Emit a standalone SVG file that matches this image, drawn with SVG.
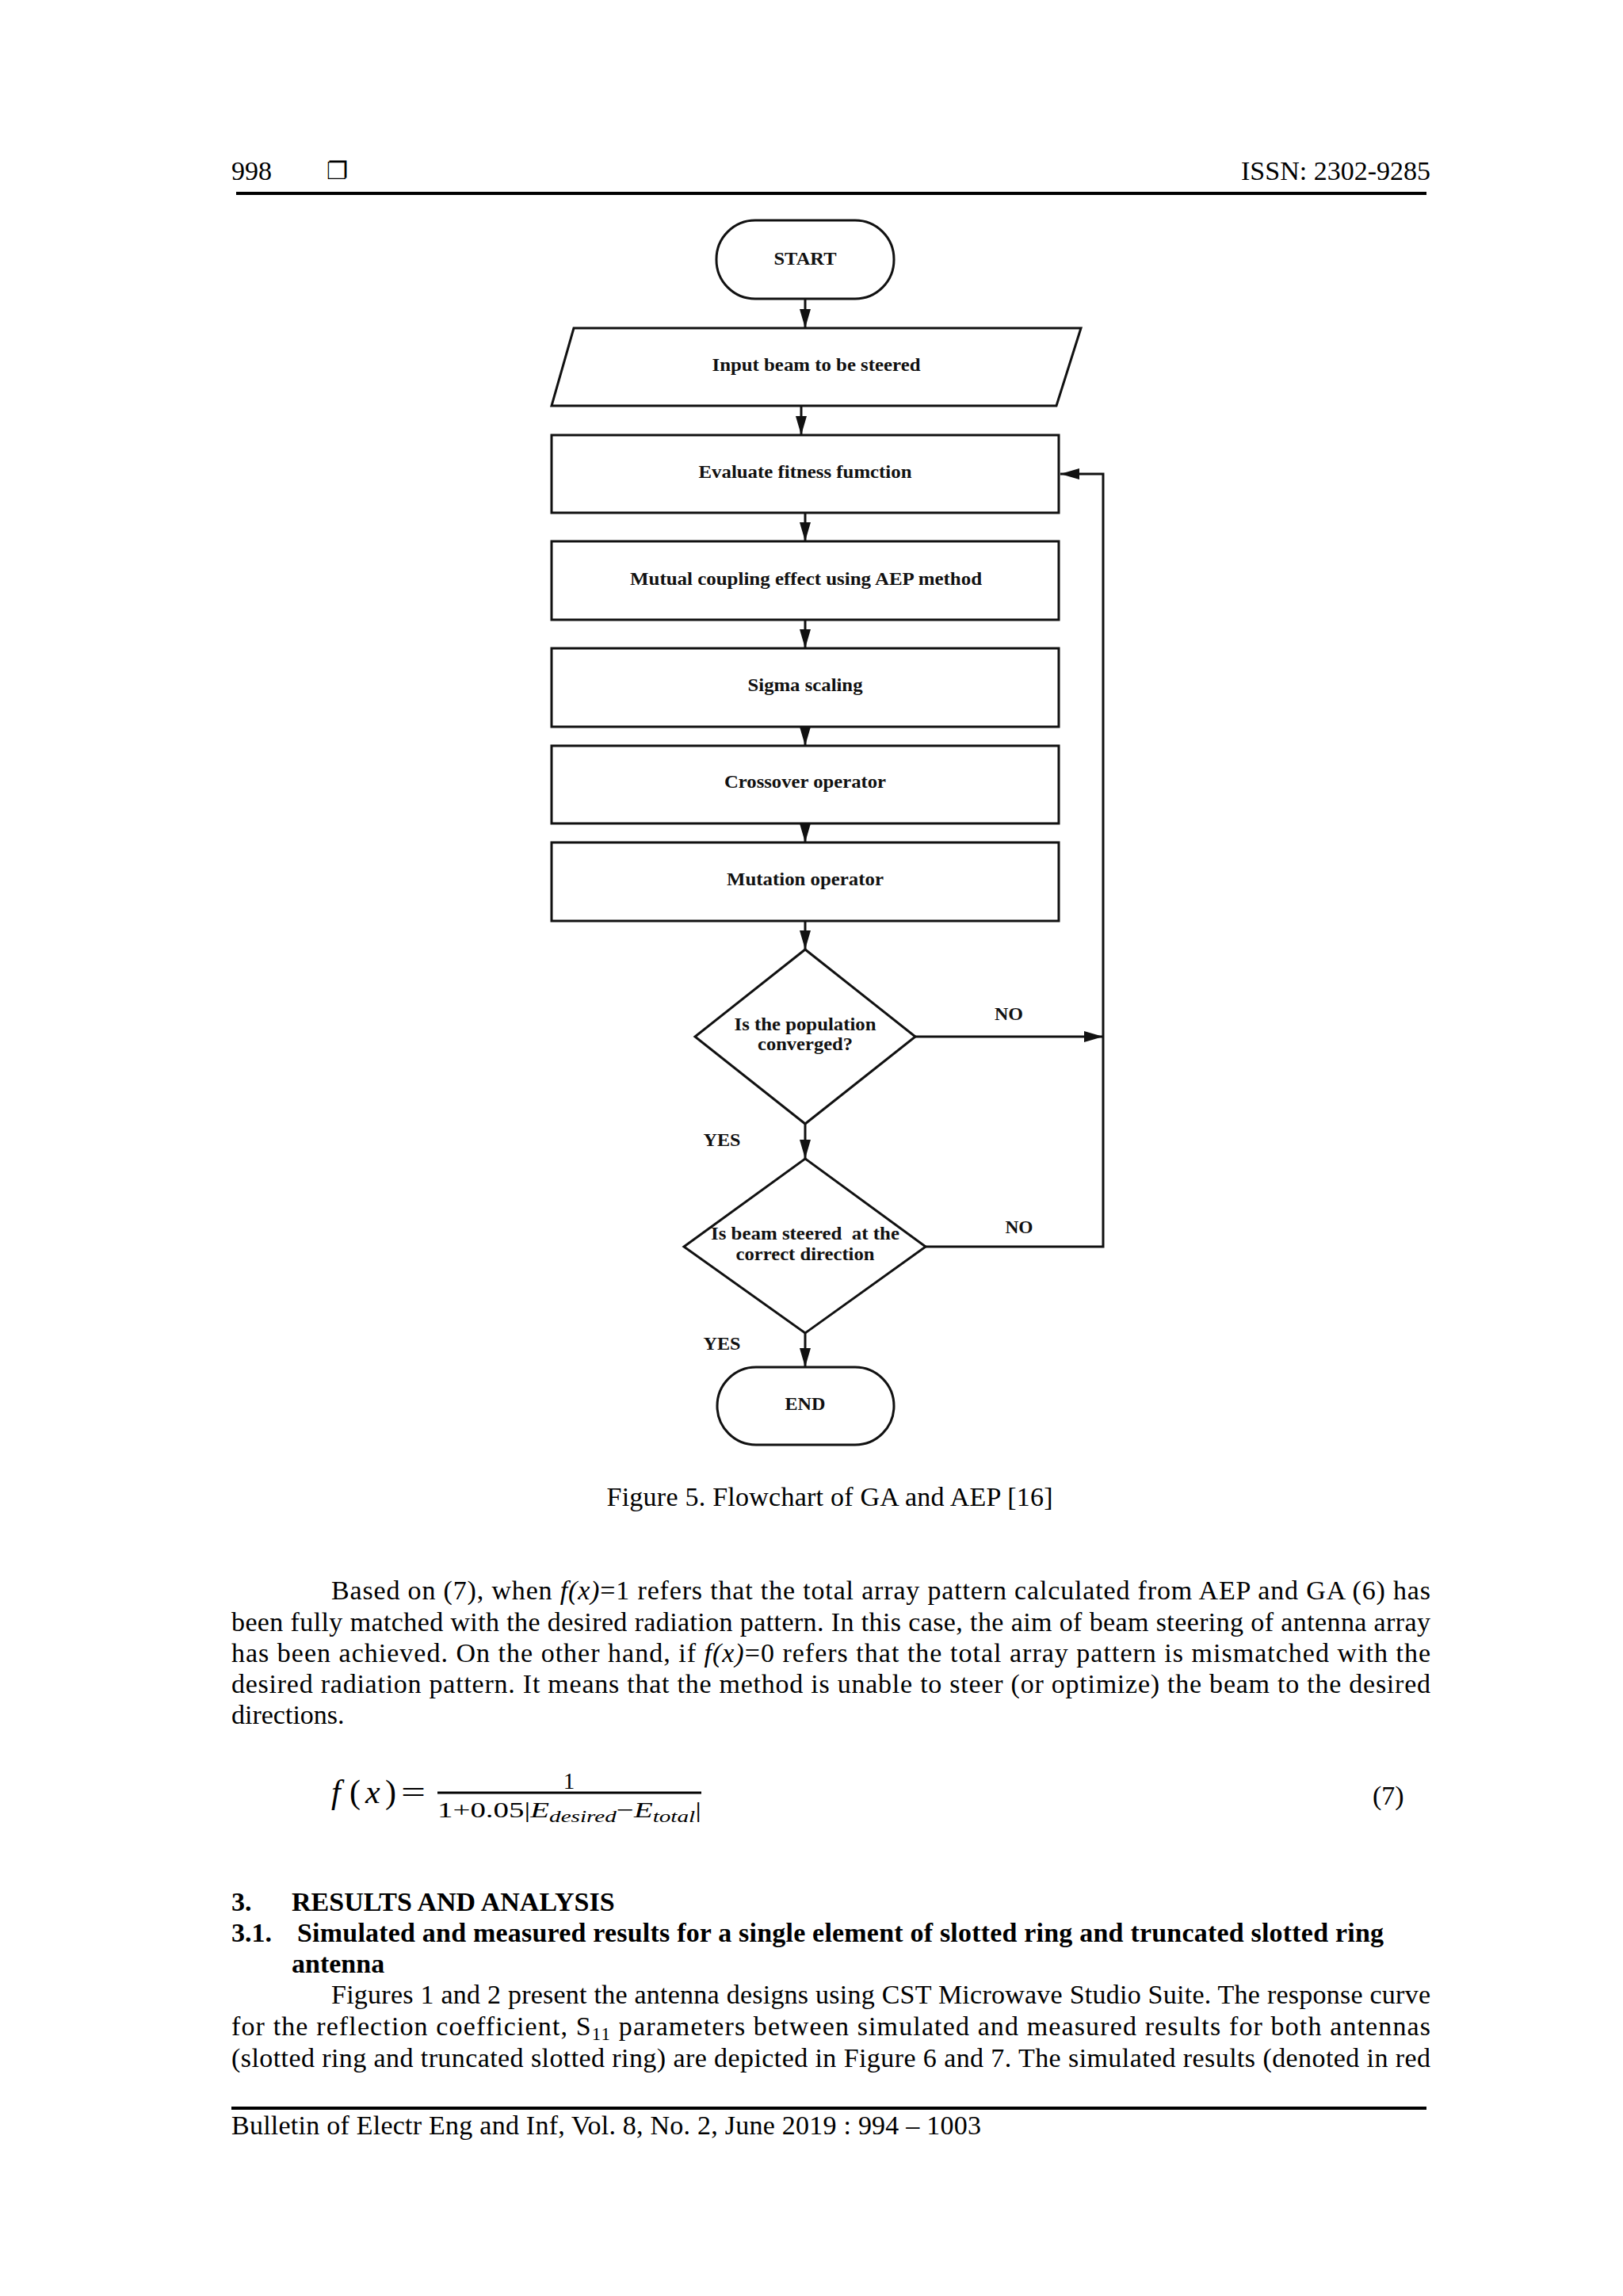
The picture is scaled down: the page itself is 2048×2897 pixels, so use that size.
<svg xmlns="http://www.w3.org/2000/svg" width="2048" height="2897" viewBox="0 0 2048 2897">
<defs>
<style>
.pg{font-family:"Liberation Serif","Times New Roman",serif;font-size:34px;fill:#000}
.b{font-weight:bold}
.fc{font-family:"Liberation Serif","Times New Roman",serif;font-size:24px;font-weight:bold;fill:#111;text-anchor:middle}
.shape{fill:#fff;stroke:#111;stroke-width:3}
.conn{fill:none;stroke:#111;stroke-width:3}
.rule{stroke:#000;stroke-width:4}
.it{font-style:italic}
.math{font-family:"Liberation Serif","Times New Roman",serif;fill:#000}
</style>
<marker id="ah" viewBox="0 0 24 14" refX="24" refY="7" markerWidth="24" markerHeight="14" markerUnits="userSpaceOnUse" orient="auto">
<path d="M0,0 L24,7 L0,14 z" fill="#111"/>
</marker>
</defs>
<rect width="2048" height="2897" fill="#fff"/>

<g id="header">
<text class="pg" x="292" y="227">998</text>
<text x="412" y="226" style="font-family:'DejaVu Sans',sans-serif;font-size:30px">❐</text>
<text class="pg" x="1805" y="227" text-anchor="end">ISSN: 2302-9285</text>
<line class="rule" x1="298" y1="244" x2="1800" y2="244"/>
</g>

<g id="connectors">
<path class="conn" d="M1016,377 V414" marker-end="url(#ah)"/>
<path class="conn" d="M1011,512 V549" marker-end="url(#ah)"/>
<path class="conn" d="M1016,647 V683" marker-end="url(#ah)"/>
<path class="conn" d="M1016,782 V818" marker-end="url(#ah)"/>
<path class="conn" d="M1016,917 V941" marker-end="url(#ah)"/>
<path class="conn" d="M1016,1039 V1063" marker-end="url(#ah)"/>
<path class="conn" d="M1016,1162 V1198" marker-end="url(#ah)"/>
<path class="conn" d="M1016,1418 V1462" marker-end="url(#ah)"/>
<path class="conn" d="M1016,1682 V1725" marker-end="url(#ah)"/>
<path class="conn" d="M1155,1308 H1392" marker-end="url(#ah)"/>
<path class="conn" d="M1168,1573 H1392 V598 H1338" marker-end="url(#ah)"/>
<text class="fc" x="1273" y="1287" textLength="36" lengthAdjust="spacingAndGlyphs">NO</text>
<text class="fc" x="1286" y="1556" textLength="35" lengthAdjust="spacingAndGlyphs">NO</text>
<text class="fc" x="911" y="1446" textLength="47" lengthAdjust="spacingAndGlyphs">YES</text>
<text class="fc" x="911" y="1703" textLength="47" lengthAdjust="spacingAndGlyphs">YES</text>
</g>

<g id="start">
<rect class="shape" x="904" y="278" width="224" height="99" rx="49" ry="49"/>
<text class="fc" x="1016" y="334" textLength="79" lengthAdjust="spacingAndGlyphs">START</text>
</g>
<g id="input">
<path class="shape" d="M724,414 L1364,414 L1333,512 L696,512 Z"/>
<text class="fc" x="1030" y="468" textLength="263" lengthAdjust="spacingAndGlyphs">Input beam to be steered</text>
</g>
<g id="evaluate">
<rect class="shape" x="696" y="549" width="640" height="98"/>
<text class="fc" x="1016" y="603" textLength="269" lengthAdjust="spacingAndGlyphs">Evaluate fitness fumction</text>
</g>
<g id="mutual">
<rect class="shape" x="696" y="683" width="640" height="99"/>
<text class="fc" x="1017" y="738" textLength="444" lengthAdjust="spacingAndGlyphs">Mutual coupling effect using AEP method</text>
</g>
<g id="sigma">
<rect class="shape" x="696" y="818" width="640" height="99"/>
<text class="fc" x="1016" y="872" textLength="145" lengthAdjust="spacingAndGlyphs">Sigma scaling</text>
</g>
<g id="crossover">
<rect class="shape" x="696" y="941" width="640" height="98"/>
<text class="fc" x="1016" y="994" textLength="204" lengthAdjust="spacingAndGlyphs">Crossover operator</text>
</g>
<g id="mutation">
<rect class="shape" x="696" y="1063" width="640" height="99"/>
<text class="fc" x="1016" y="1117" textLength="198" lengthAdjust="spacingAndGlyphs">Mutation operator</text>
</g>
<g id="converged">
<path class="shape" d="M1016,1198 L1155,1308 L1016,1418 L877,1308 Z"/>
<text class="fc" x="1016" y="1300" textLength="179" lengthAdjust="spacingAndGlyphs">Is the population</text>
<text class="fc" x="1016" y="1325" textLength="120" lengthAdjust="spacingAndGlyphs">converged?</text>
</g>
<g id="steered">
<path class="shape" d="M1016,1462 L1168,1573 L1016,1682 L863,1573 Z"/>
<text class="fc" x="1016" y="1564" textLength="238" lengthAdjust="spacingAndGlyphs" xml:space="preserve">Is beam steered  at the</text>
<text class="fc" x="1016" y="1590" textLength="175" lengthAdjust="spacingAndGlyphs">correct direction</text>
</g>
<g id="end">
<rect class="shape" x="905" y="1725" width="223" height="98" rx="49" ry="49"/>
<text class="fc" x="1016" y="1779" textLength="51" lengthAdjust="spacingAndGlyphs">END</text>
</g>

<g id="caption">
<text class="pg" x="1047" y="1900" text-anchor="middle" textLength="563" lengthAdjust="spacing">Figure 5. Flowchart of GA and AEP [16]</text>
</g>

<g id="para1">
<text class="pg" x="418" y="2018" textLength="1387" lengthAdjust="spacing">Based on (7), when <tspan class="it">f(x)</tspan>=1 refers that the total array pattern calculated from AEP and GA (6) has</text>
<text class="pg" x="292" y="2058" textLength="1513" lengthAdjust="spacing">been fully matched with the desired radiation pattern. In this case, the aim of beam steering of antenna array</text>
<text class="pg" x="292" y="2097" textLength="1513" lengthAdjust="spacing">has been achieved. On the other hand, if <tspan class="it">f(x)</tspan>=0 refers that the total array pattern is mismatched with the</text>
<text class="pg" x="292" y="2136" textLength="1513" lengthAdjust="spacing">desired radiation pattern. It means that the method is unable to steer (or optimize) the beam to the desired</text>
<text class="pg" x="292" y="2175">directions.</text>
</g>

<g id="equation">
<text class="math" y="2275" style="font-size:42px"><tspan class="it" x="418">f</tspan><tspan x="441">(</tspan><tspan class="it" x="461">x</tspan><tspan x="486">)</tspan></text>
<text class="math" x="506" y="2275" style="font-size:40px" textLength="31" lengthAdjust="spacingAndGlyphs">=</text>
<line x1="552" y1="2262" x2="885" y2="2262" stroke="#000" stroke-width="3"/>
<text class="math" x="718" y="2257" text-anchor="middle" style="font-size:29px">1</text>
<text class="math" x="552" y="2293" textLength="333" lengthAdjust="spacingAndGlyphs" style="font-size:28px">1+0.05|<tspan class="it">E</tspan><tspan class="it" font-size="21" dy="6">desired</tspan><tspan dy="-6">−</tspan><tspan class="it">E</tspan><tspan class="it" font-size="21" dy="6">total</tspan><tspan dy="-6">|</tspan></text>
<text class="pg" x="1732" y="2277">(7)</text>
</g>

<g id="section">
<text class="pg b" x="292" y="2411">3.</text>
<text class="pg b" x="368" y="2411">RESULTS AND ANALYSIS</text>
<text class="pg b" x="292" y="2450">3.1.</text>
<text class="pg b" x="375" y="2450" textLength="1371" lengthAdjust="spacing">Simulated and measured results for a single element of slotted ring and truncated slotted ring</text>
<text class="pg b" x="368" y="2489">antenna</text>
</g>

<g id="para2">
<text class="pg" x="418" y="2528" textLength="1387" lengthAdjust="spacing">Figures 1 and 2 present the antenna designs using CST Microwave Studio Suite. The response curve</text>
<text class="pg" x="292" y="2568" textLength="1513" lengthAdjust="spacing">for the reflection coefficient, S<tspan font-size="23" dy="6">11</tspan><tspan dy="-6"> parameters between simulated and measured results for both antennas</tspan></text>
<text class="pg" x="292" y="2608" textLength="1513" lengthAdjust="spacing">(slotted ring and truncated slotted ring) are depicted in Figure 6 and 7. The simulated results (denoted in red</text>
</g>

<g id="footer">
<line class="rule" x1="292" y1="2660" x2="1800" y2="2660" stroke-width="3"/>
<text class="pg" x="292" y="2693" textLength="946" lengthAdjust="spacing">Bulletin of Electr Eng and Inf, Vol. 8, No. 2, June 2019 : 994 – 1003</text>
</g>
</svg>
